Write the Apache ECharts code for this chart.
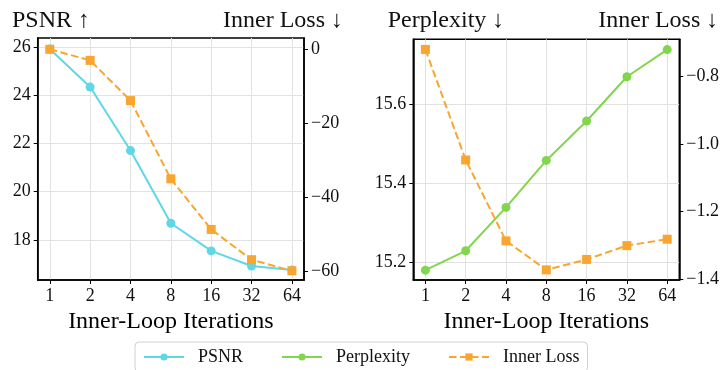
<!DOCTYPE html>
<html>
<head>
<meta charset="utf-8">
<script src="https://cdn.jsdelivr.net/npm/echarts@6/dist/echarts.min.js"></script>
<style>
html,body{margin:0;padding:0;background:#fff;}
#c{width:723px;height:370px;}
</style>
</head>
<body>
<div id="c"></div>
<script>
// ---- data ----
var iterations = [1, 2, 4, 8, 16, 32, 64];
var psnr = [25.93, 24.35, 21.71, 18.69, 17.54, 16.91, 16.75];
var innerLossLeft = [0.0, -3.0, -13.9, -35.1, -48.8, -57.0, -60.0];
var perplexity = [15.180, 15.229, 15.339, 15.458, 15.558, 15.670, 15.739];
var innerLossRight = [-0.719, -1.047, -1.287, -1.373, -1.342, -1.301, -1.282];
var psnrTicks = [18, 20, 22, 24, 26];
var lossLeftTicks = [-60, -40, -20, 0];
var pplTicks = [15.2, 15.4, 15.6];
var lossRightTicks = [-1.4, -1.2, -1.0, -0.8];

var C_PSNR = '#5fd7e6', C_PPL = '#82d64e', C_LOSS = '#f9a630';
var FONT = '"Liberation Serif", "Times New Roman", "DejaVu Serif", serif';

function pairs(arr) { return arr.map(function (v, i) { return [i, v]; }); }
function minus(s) { return String(s).replace('-', '\u2212'); }
var idx = iterations.map(function (v, i) { return i; });

function xAxisFor(gi) {
  return {
    type: 'value', gridIndex: gi, min: -0.3, max: 6.3,
    name: 'Inner-Loop Iterations', nameLocation: 'middle', nameGap: 27,
    nameTextStyle: { fontFamily: FONT, fontSize: 24, color: '#000' },
    axisLine: { show: true, onZero: false, lineStyle: { color: '#000', width: 1.5 } },
    axisTick: { show: true, length: 4, lineStyle: { color: '#000', width: 1 }, customValues: idx },
    axisLabel: { customValues: idx, margin: 7, fontFamily: FONT, fontSize: 18, color: '#111',
      formatter: function (v) { return String(iterations[Math.round(v)]); } },
    splitLine: { show: true, lineStyle: { color: '#e2e2e2', width: 1 } }
  };
}
function yAxisFor(gi, pos, min, max, ticks, fmt, split) {
  return {
    type: 'value', gridIndex: gi, position: pos, min: min, max: max,
    axisLine: { show: true, onZero: false, lineStyle: { color: '#000', width: 1.5 } },
    axisTick: { show: true, length: 4, lineStyle: { color: '#000', width: 1 }, customValues: ticks },
    axisLabel: { customValues: ticks, margin: 7, fontFamily: FONT, fontSize: 18, color: '#111', formatter: fmt },
    splitLine: { show: split, lineStyle: { color: '#e2e2e2', width: 1 } }
  };
}

var chart = echarts.init(document.getElementById('c'), null, { renderer: 'canvas' });
chart.setOption({
  animation: false,
  backgroundColor: '#fff',
  textStyle: { fontFamily: FONT },
  grid: [
    { left: 37.7, top: 38, width: 266.3, height: 242, show: true, borderColor: '#000', borderWidth: 1.5, backgroundColor: 'transparent' },
    { left: 413.3, top: 39.3, width: 266, height: 240.7, show: true, borderColor: '#000', borderWidth: 1.5, backgroundColor: 'transparent' }
  ],
  xAxis: [xAxisFor(0), xAxisFor(1)],
  yAxis: [
    yAxisFor(0, 'left', 16.33, 26.39, psnrTicks, function (v) { return String(v); }, true),
    yAxisFor(0, 'right', -62.5, 3.06, lossLeftTicks, function (v) { return minus(v); }, false),
    yAxisFor(1, 'left', 15.155, 15.765, pplTicks, function (v) { return v.toFixed(1); }, true),
    yAxisFor(1, 'right', -1.403, -0.689, lossRightTicks, function (v) { return minus(v.toFixed(1)); }, false)
  ],
  legend: {
    data: ['PSNR', 'Perplexity', 'Inner Loss'],
    left: 135, top: 342,
    padding: [6, 8, 6, 8],
    itemWidth: 40, itemHeight: 9, itemGap: 38,
    backgroundColor: '#fff', borderColor: '#d0d0d0', borderWidth: 1, borderRadius: 4,
    textStyle: { fontFamily: FONT, fontSize: 18, color: '#111', padding: [0, 0, 0, 9] }
  },
  graphic: [
    { type: 'text', style: { x: 12, y: 20.5, text: 'PSNR \u2191', font: '24px ' + FONT, fill: '#111', textAlign: 'left', textVerticalAlign: 'middle', verticalAlign: 'middle' } },
    { type: 'text', style: { x: 343, y: 20.5, text: 'Inner Loss \u2193', font: '24px ' + FONT, fill: '#111', textAlign: 'right', textVerticalAlign: 'middle', verticalAlign: 'middle' } },
    { type: 'text', style: { x: 387.7, y: 20.5, text: 'Perplexity \u2193', font: '24px ' + FONT, fill: '#111', textAlign: 'left', textVerticalAlign: 'middle', verticalAlign: 'middle' } },
    { type: 'text', style: { x: 718.3, y: 20.5, text: 'Inner Loss \u2193', font: '24px ' + FONT, fill: '#111', textAlign: 'right', textVerticalAlign: 'middle', verticalAlign: 'middle' } }
  ],
  series: [
    { name: 'PSNR', type: 'line', xAxisIndex: 0, yAxisIndex: 0, data: pairs(psnr),
      symbol: 'circle', symbolSize: 9, color: C_PSNR, lineStyle: { width: 2, color: C_PSNR }, itemStyle: { color: C_PSNR }, z: 2 },
    { name: 'Perplexity', type: 'line', xAxisIndex: 1, yAxisIndex: 2, data: pairs(perplexity),
      symbol: 'circle', symbolSize: 9, color: C_PPL, lineStyle: { width: 2, color: C_PPL }, itemStyle: { color: C_PPL }, z: 2 },
    { name: 'Inner Loss', type: 'line', xAxisIndex: 0, yAxisIndex: 1, data: pairs(innerLossLeft),
      symbol: 'rect', symbolSize: 9, color: C_LOSS, lineStyle: { width: 2, color: C_LOSS, type: [7.5, 3.5] }, itemStyle: { color: C_LOSS }, z: 3 },
    { name: 'Inner Loss', type: 'line', xAxisIndex: 1, yAxisIndex: 3, data: pairs(innerLossRight),
      symbol: 'rect', symbolSize: 9, color: C_LOSS, lineStyle: { width: 2, color: C_LOSS, type: [7.5, 3.5] }, itemStyle: { color: C_LOSS }, z: 3 }
  ]
});
</script>
</body>
</html>
